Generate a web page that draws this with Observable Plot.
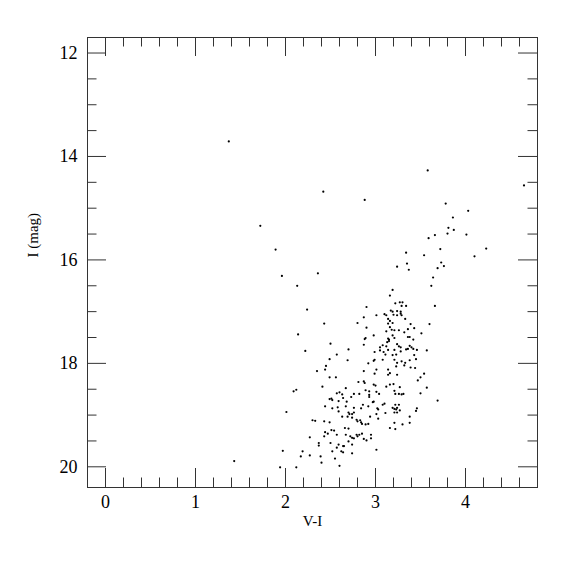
<!DOCTYPE html>
<html>
<head>
<meta charset="utf-8">
<script src="https://cdn.jsdelivr.net/npm/d3@7"></script>
<script src="https://cdn.jsdelivr.net/npm/@observablehq/plot@0.6"></script>
<style>
  html, body { margin: 0; padding: 0; background: #fff; }
</style>
</head>
<body>
<div id="chart"></div>
<script>
// Colour index V-I and I magnitude of each star
const vi = [
  1.37, 2.42, 2.88, 1.72, 1.89, 1.96, 2.36, 2.13,
  3.58, 4.65, 3.78, 4.03, 3.86, 3.81, 3.87, 3.80, 3.66, 4.01, 3.59, 4.23, 3.72, 3.34, 3.54, 4.10, 3.35, 3.73, 3.76, 3.69, 3.24, 3.37, 3.64, 3.62, 3.19, 3.16, 3.66,
  2.24, 2.43, 2.14, 2.50, 2.22, 2.70, 2.57, 2.69, 2.49, 2.45, 2.44, 2.35,
  3.27, 3.30, 3.22, 2.90, 3.29, 3.34, 3.17, 3.19, 3.24, 3.28, 3.10, 3.12, 3.20, 3.24, 3.28, 3.29, 3.01, 2.87, 3.14, 3.33,
  3.16, 2.80, 3.19, 3.14, 3.39, 3.60, 2.90, 3.16, 3.43, 3.36, 3.18, 3.21, 3.26, 3.12, 3.32, 3.51, 2.98, 3.19, 3.21, 3.14,
  2.89, 2.88, 3.36, 3.38, 3.15, 3.13, 3.15, 3.42, 2.87, 3.08, 3.24, 3.38, 3.40, 3.05, 3.12, 3.26, 3.28, 3.36, 3.42, 3.05,
  3.14, 3.21, 3.28, 3.34, 3.46, 3.57, 3.09, 2.99, 3.11, 3.19, 3.23, 3.43, 2.99, 2.98, 3.08, 3.21, 3.29, 3.38, 3.45, 3.24,
  3.33, 2.92, 3.23, 3.32, 3.01, 2.87, 3.14, 3.39, 3.44, 3.54, 3.16, 3.14, 3.24,
  2.49, 2.56, 2.41, 2.67, 2.09, 2.12, 2.57, 2.60, 2.63, 2.49, 2.51, 2.52, 2.59, 2.64, 2.68, 2.44, 2.52, 2.58, 2.59, 2.67,
  2.70, 2.71, 2.01, 2.63, 2.69, 2.30, 2.33, 2.43, 2.49, 2.66, 2.70, 2.51, 2.54, 2.44, 2.47, 2.57, 2.67, 2.43, 2.27, 2.70,
  2.37, 2.37, 2.50, 2.59, 2.64, 2.65, 2.52, 2.57, 2.62, 2.64, 1.97, 2.19, 2.17, 2.27, 2.39, 2.55, 2.40, 2.60, 1.43, 1.94, 2.12,
  2.99, 3.50, 3.47, 2.81, 2.87, 2.88, 2.98, 3.00, 3.16, 3.20, 3.12, 3.27, 3.57, 3.21, 2.89, 2.93, 3.01, 3.22, 3.26, 3.29,
  3.31, 3.50, 3.04, 2.82, 2.76, 2.93, 2.93, 2.73, 3.69, 2.98, 2.97, 3.10, 3.08, 3.22, 3.26, 2.86, 2.92, 2.76, 2.84, 3.02,
  3.03, 3.19, 3.21, 3.23, 3.24, 3.27, 3.46, 3.45, 3.24, 3.21, 3.11, 3.01, 2.74, 2.76, 2.74, 2.94, 3.03, 3.38, 2.79, 2.80,
  2.83, 2.84, 2.85, 2.89, 2.92, 3.21, 3.38, 3.30, 3.16, 3.22, 2.72, 2.79, 2.82, 2.85, 2.74, 2.76, 2.80, 2.87, 2.90, 2.95,
  2.95, 2.74, 3.01, 2.74
];
const imag = [
  13.71, 14.68, 14.84, 15.34, 15.80, 16.31, 16.26, 16.50,
  14.27, 14.56, 14.91, 15.05, 15.18, 15.38, 15.42, 15.49, 15.52, 15.51, 15.58, 15.78, 15.79, 15.86, 15.91, 15.93, 16.07, 16.05, 16.12, 16.16, 16.13, 16.19, 16.34, 16.50, 16.58, 16.69, 16.89,
  16.96, 17.23, 17.44, 17.62, 17.76, 17.73, 17.83, 17.94, 17.92, 18.05, 18.12, 18.15,
  16.82, 16.82, 16.84, 16.91, 16.89, 16.89, 16.98, 17.00, 16.99, 17.00, 17.05, 17.07, 17.06, 17.07, 17.04, 17.07, 17.07, 17.11, 17.14, 17.14,
  17.18, 17.22, 17.22, 17.23, 17.24, 17.24, 17.31, 17.30, 17.32, 17.34, 17.35, 17.36, 17.36, 17.38, 17.40, 17.42, 17.46, 17.46, 17.51, 17.52,
  17.51, 17.53, 17.49, 17.49, 17.54, 17.59, 17.57, 17.54, 17.64, 17.65, 17.63, 17.66, 17.69, 17.69, 17.67, 17.67, 17.69, 17.72, 17.72, 17.75,
  17.74, 17.74, 17.77, 17.73, 17.74, 17.75, 17.78, 17.78, 17.83, 17.84, 17.83, 17.84, 17.93, 17.95, 17.93, 17.93, 17.96, 17.94, 17.92, 17.99,
  17.99, 18.00, 18.06, 18.04, 18.12, 18.15, 18.12, 18.08, 18.09, 18.20, 18.19, 18.22, 18.22,
  18.27, 18.27, 18.45, 18.48, 18.54, 18.51, 18.58, 18.56, 18.60, 18.69, 18.68, 18.71, 18.73, 18.67, 18.74, 18.83, 18.87, 18.85, 18.93, 18.83,
  18.95, 18.98, 18.94, 19.03, 19.03, 19.10, 19.11, 19.12, 19.14, 19.25, 19.26, 19.29, 19.30, 19.33, 19.36, 19.38, 19.38, 19.41, 19.43, 19.51,
  19.54, 19.59, 19.54, 19.57, 19.60, 19.60, 19.70, 19.63, 19.70, 19.72, 19.69, 19.70, 19.80, 19.78, 19.80, 19.84, 19.92, 19.98, 19.89, 20.01, 20.01,
  18.20, 18.27, 18.33, 18.36, 18.35, 18.38, 18.41, 18.43, 18.41, 18.40, 18.45, 18.46, 18.47, 18.53, 18.52, 18.54, 18.55, 18.59, 18.59, 18.60,
  18.59, 18.58, 18.59, 18.59, 18.59, 18.61, 18.65, 18.65, 18.72, 18.74, 18.75, 18.78, 18.80, 18.80, 18.80, 18.80, 18.83, 18.86, 18.87, 18.87,
  18.89, 18.86, 18.88, 18.89, 18.86, 18.91, 18.87, 18.92, 18.95, 18.95, 18.96, 18.98, 18.98, 18.95, 19.05, 19.03, 19.07, 19.03, 19.09, 19.12,
  19.10, 19.14, 19.17, 19.18, 19.17, 19.15, 19.15, 19.18, 19.25, 19.27, 19.41, 19.38, 19.38, 19.36, 19.44, 19.45, 19.41, 19.46, 19.49, 19.45,
  19.38, 19.57, 19.67, 19.74
];

const xMajorTicks = [0, 1, 2, 3, 4];
const xMinorTicks = [0.2, 0.4, 0.6, 0.8, 1.2, 1.4, 1.6, 1.8, 2.2, 2.4, 2.6, 2.8, 3.2, 3.4, 3.6, 3.8, 4.2, 4.4, 4.6];
const yMajorTicks = [12, 14, 16, 18, 20];
const yMinorTicks = [12.5, 13, 13.5, 14.5, 15, 15.5, 16.5, 17, 17.5, 18.5, 19, 19.5];
const xTickLabels = ["0", "1", "2", "3", "4"];
const yTickLabels = ["12", "14", "16", "18", "20"];
const xTitle = "V-I";
const yTitle = "I (mag)";

const stars = vi.map((v, i) => ({vi: v, imag: imag[i]}));
const xLabelRows = xMajorTicks.map((v, i) => ({v, label: xTickLabels[i]}));
const yLabelRows = yMajorTicks.map((v, i) => ({v, label: yTickLabels[i]}));

const W = 575, Hh = 575;
const mL = 87, mR = 38, mT = 37, mB = 88;
const innerW = W - mL - mR, innerH = Hh - mT - mB;
const majorLen = 19, minorLen = 9.5;
const ink = "#333";
const serif = "'Liberation Serif', 'DejaVu Serif', serif";

const chart = Plot.plot({
  width: W,
  height: Hh,
  marginLeft: mL,
  marginRight: mR,
  marginTop: mT,
  marginBottom: mB,
  style: {fontFamily: serif, fontSize: "18px", background: "#fff", color: "#000"},
  x: {domain: [-0.2, 4.8], axis: null},
  y: {domain: [11.7, 20.4], reverse: true, axis: null},
  marks: [
    Plot.frame({stroke: ink}),
    // bottom ticks
    Plot.tickX(xMajorTicks, {x: d => d, stroke: ink, insetTop: innerH - majorLen}),
    Plot.tickX(xMinorTicks, {x: d => d, stroke: ink, insetTop: innerH - minorLen}),
    // top ticks
    Plot.tickX(xMajorTicks, {x: d => d, stroke: ink, insetBottom: innerH - majorLen}),
    Plot.tickX(xMinorTicks, {x: d => d, stroke: ink, insetBottom: innerH - minorLen}),
    // left ticks
    Plot.tickY(yMajorTicks, {y: d => d, stroke: ink, insetRight: innerW - majorLen}),
    Plot.tickY(yMinorTicks, {y: d => d, stroke: ink, insetRight: innerW - minorLen}),
    // right ticks
    Plot.tickY(yMajorTicks, {y: d => d, stroke: ink, insetLeft: innerW - majorLen}),
    Plot.tickY(yMinorTicks, {y: d => d, stroke: ink, insetLeft: innerW - minorLen}),
    // tick labels
    Plot.text(xLabelRows, {x: "v", text: "label", frameAnchor: "bottom", dy: 20, fontSize: 18, fontFamily: serif, fill: "#000"}),
    Plot.text(yLabelRows, {y: "v", text: "label", frameAnchor: "left", textAnchor: "end", dx: -10, fontSize: 18, fontFamily: serif, fill: "#000"}),
    // axis titles
    Plot.text([xTitle], {text: d => d, frameAnchor: "bottom", dy: 38, fontSize: 15, fontFamily: serif, fill: "#000"}),
    Plot.text([yTitle], {text: d => d, frameAnchor: "left", rotate: -90, dx: -54, dy: -5, fontSize: 15, fontFamily: serif, fill: "#000"}),
    Plot.dot(stars, {x: "vi", y: "imag", r: 1.1, fill: "#000", stroke: null})
  ]
});
document.getElementById("chart").appendChild(chart);
</script>
</body>
</html>
